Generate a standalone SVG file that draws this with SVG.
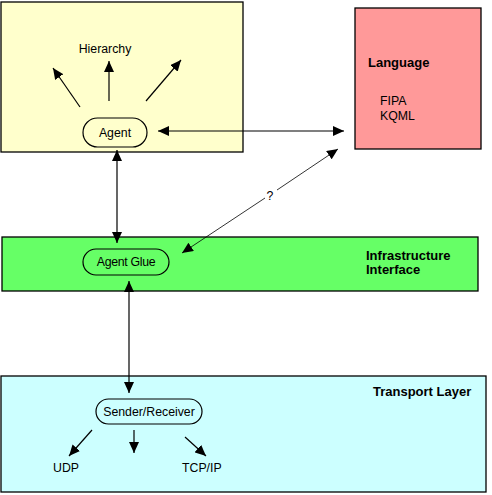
<svg xmlns="http://www.w3.org/2000/svg" width="492" height="495" viewBox="0 0 492 495">
<style>
.box{stroke:#000;stroke-width:1.3}
.pill{fill:none;stroke:#000;stroke-width:1.2}
.t{font-family:"Liberation Sans",Arial,sans-serif;font-size:12.3px;fill:#000}
.b{font-family:"Liberation Sans",Arial,sans-serif;font-size:13px;font-weight:bold;fill:#000}
.c{stroke:#000;stroke-width:1.2;fill:none}
.thin{stroke:#000;stroke-width:0.8;fill:none}
</style>
<defs>
<marker id="ah" markerWidth="12" markerHeight="10" refX="11" refY="5" orient="auto" markerUnits="userSpaceOnUse">
<path d="M0,0 L11,5 L0,10 z" fill="#000"/>
</marker>
<marker id="as" markerWidth="12" markerHeight="10" refX="1" refY="5" orient="auto" markerUnits="userSpaceOnUse">
<path d="M12,0 L1,5 L12,10 z" fill="#000"/>
</marker>
</defs>
<rect width="492" height="495" fill="#fff"/>
<g id="agent-layer">
<rect class="box" x="1" y="2" width="242" height="150" fill="#ffffcc"/>
</g>
<g id="language">
<rect class="box" x="355" y="8" width="126" height="141" fill="#ff9999"/>
<text class="b" x="368" y="67">Language</text>
<text class="t" x="380" y="105">FIPA</text>
<text class="t" x="380" y="120">KQML</text>
</g>
<g id="infrastructure">
<rect class="box" x="2" y="237" width="476" height="54" fill="#66ff66"/>
<text class="b" x="366" y="260">Infrastructure</text>
<text class="b" x="366" y="274">Interface</text>
</g>
<g id="transport">
<rect class="box" x="1" y="376" width="485" height="116" fill="#ccffff"/>
<text class="b" x="373" y="396">Transport Layer</text>
</g>
<g id="hierarchy">
<text class="t" x="105" y="53" text-anchor="middle">Hierarchy</text>
</g>
<g id="agent">
<rect class="pill" x="83" y="118" width="64" height="29" rx="14.5"/>
<text class="t" x="115" y="137" text-anchor="middle">Agent</text>
</g>
<g id="agent-glue">
<rect class="pill" x="83" y="249" width="86" height="26" rx="13"/>
<text class="t" x="126" y="266" text-anchor="middle" letter-spacing="-0.3">Agent Glue</text>
</g>
<g id="sender-receiver">
<rect class="pill" x="96" y="399" width="106" height="25" rx="12.5"/>
<text class="t" x="149" y="416" text-anchor="middle">Sender/Receiver</text>
</g>
<g id="udp"><text class="t" x="53" y="472">UDP</text></g>
<g id="tcpip"><text class="t" x="182" y="472">TCP/IP</text></g>
<g id="connectors">
<line class="c" x1="80" y1="107" x2="53" y2="68" marker-end="url(#ah)"/>
<line class="c" x1="109" y1="101" x2="109" y2="61" marker-end="url(#ah)"/>
<line class="c" x1="146" y1="101" x2="181" y2="60" marker-end="url(#ah)"/>
<line class="c" x1="158" y1="131" x2="344" y2="131" marker-start="url(#as)" marker-end="url(#ah)"/>
<line class="c" x1="117" y1="150" x2="117" y2="243" marker-start="url(#as)" marker-end="url(#ah)"/>
<line class="thin" x1="338" y1="149" x2="277" y2="190" marker-start="url(#as)"/>
<line class="thin" x1="265" y1="198" x2="182" y2="253" marker-end="url(#ah)"/>
<text class="t" x="270" y="200" text-anchor="middle">?</text>
<line class="c" x1="129" y1="281" x2="129" y2="393" marker-start="url(#as)" marker-end="url(#ah)"/>
<line class="c" x1="92" y1="430" x2="69" y2="456" marker-end="url(#ah)"/>
<line class="c" x1="134" y1="430" x2="134" y2="453" marker-end="url(#ah)"/>
<line class="c" x1="185" y1="437" x2="206" y2="456" marker-end="url(#ah)"/>
</g>
</svg>
